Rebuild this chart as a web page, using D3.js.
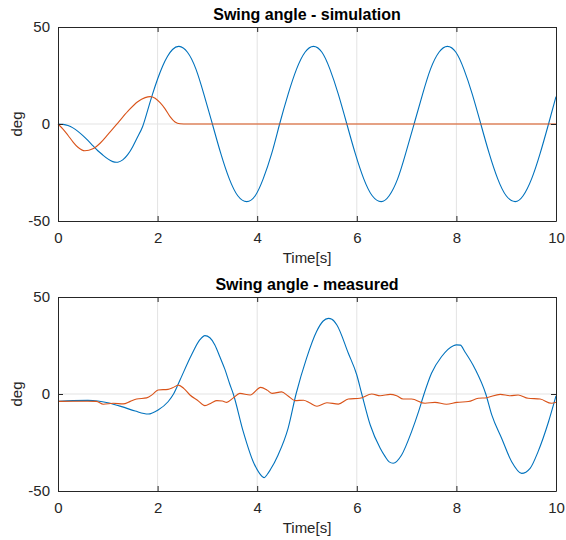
<!DOCTYPE html>
<html>
<head>
<meta charset="utf-8">
<script src="https://cdn.jsdelivr.net/npm/d3@7"></script>
<style>
  body { margin: 0; background: #fff; }
  svg { font-family: "Liberation Sans", Arial, sans-serif; }
</style>
</head>
<body>
<svg></svg>
<script>
const xTicks = [0, 2, 4, 6, 8, 10]
const yTicks = [-50, 0, 50]
const yTickLabels = ["-50", "0", "50"]
const titles = ["Swing angle - simulation", "Swing angle - measured"]

// simulation, blue
const simFreeT = [0, 0.1, 0.2, 0.3, 0.4, 0.5, 0.6, 0.7, 0.8, 0.9, 1, 1.1, 1.2, 1.3, 1.4, 1.5, 1.6, 1.7,
  1.8, 1.9, 2, 2.1, 2.2, 2.3, 2.43,
  2.6, 2.77, 2.93, 3.1, 3.27, 3.44, 3.61, 3.79, 3.96, 4.12, 4.29, 4.45, 4.62, 4.79, 4.96, 5.13,
  5.3, 5.46, 5.63, 5.8, 5.97, 6.14, 6.31, 6.49, 6.65, 6.82, 6.98, 7.15, 7.32, 7.48, 7.65, 7.82,
  7.99, 8.15, 8.32, 8.49, 8.66, 8.83, 9, 9.18, 9.34, 9.51, 9.68, 9.85, 10]
const simFree = [0, -0.2, -0.8, -2, -3.8, -6, -8.5, -11.2, -13.8, -16, -18, -19.4, -19.7, -18.5, -15.8, -11.7, -6.6, -1.3,
  7, 15.5, 23.2, 29.8, 34.9, 38.4, 40,
  37, 28.3, 15.3, 0, -15.3, -28.3, -37, -40, -37, -28.3, -15.3, 0, 15.3, 28.3, 37, 40,
  37, 28.3, 15.3, 0, -15.3, -28.3, -37, -40, -37, -28.3, -15.3, 0, 15.3, 28.3, 37, 40,
  37, 28.3, 15.3, 0, -15.3, -28.3, -37, -40, -37, -28.3, -15.3, 0, 14.1]

// simulation, orange
const simCtrlT = [0, 0.1, 0.2, 0.3, 0.4, 0.54, 0.7, 0.85, 1, 1.2, 1.4, 1.6, 1.75, 1.85, 1.95, 2.05, 2.15,
  2.25, 2.35, 2.45, 2.6, 3, 4, 5, 6, 7, 8, 9, 10]
const simCtrl = [0, -2.6, -5.8, -9.2, -12, -13.8, -12.8, -9.8, -5.5, 0.5, 6.5, 11.5, 13.6, 14.1, 13.3, 11, 7.8,
  3.8, 1, 0.1, 0, 0, 0, 0, 0, 0, 0, 0, 0]

// measured, blue
const measFreeT = [0, 0.3, 0.6, 0.8, 1, 1.28, 1.55, 1.81, 2.01, 2.21, 2.32, 2.45, 2.68, 2.85, 2.95, 3.05,
  3.15, 3.25, 3.35, 3.45, 3.52, 3.72, 3.92, 4.05, 4.14, 4.2, 4.26, 4.42, 4.62, 4.78, 4.99, 5.19,
  5.32, 5.43, 5.5, 5.6, 5.83, 6, 6.1, 6.27, 6.47, 6.57, 6.65, 6.73, 6.9, 7.1, 7.24, 7.35, 7.5,
  7.7, 7.94, 8, 8.08, 8.17, 8.37, 8.59, 8.71, 8.91, 9.11, 9.31, 9.48, 9.64, 9.85, 10]
const measFree = [-3.8, -3.4, -3.3, -3.6, -4.5, -6.5, -8.8, -10.3, -8.2, -4, 0, 7.2, 20.1, 28, 30.1, 29,
  25.3, 19.2, 12.8, 5, 0, -19.4, -34.9, -41, -43.1, -41.5, -39.2, -31.4, -17.7, 0, 18.4, 32.1,
  37.5, 39, 38.5, 35.6, 21, 9.8, 0, -16, -28, -32.3, -35, -35.7, -31.4, -19.4, -9.1, 0, 10.7,
  19.2, 24.9, 25.3, 25.2, 21.8, 13.2, 0, -10.8, -22.9, -34.9, -40.9, -38.3, -29.7, -14.3, -1]

// measured, orange
const measCtrlT = [0, 0.3, 0.6, 0.77, 0.91, 1.11, 1.31, 1.45, 1.58, 1.78, 1.9, 2.01, 2.21, 2.3, 2.42, 2.53,
  2.65, 2.8, 2.95, 3.08, 3.19, 3.3, 3.39, 3.52, 3.65, 3.86, 4.07, 4.2, 4.3, 4.49, 4.62, 4.76,
  4.93, 5.05, 5.2, 5.4, 5.63, 5.83, 6.06, 6.3, 6.47, 6.67, 6.8, 6.93, 7.1, 7.37, 7.57, 7.8,
  8.01, 8.24, 8.44, 8.61, 8.88, 9.08, 9.24, 9.44, 9.68, 9.91, 10]
const measCtrl = [-3.8, -3.7, -3.7, -3.8, -5.3, -4.8, -5.1, -3.8, -2.6, -2, -0.2, 2.1, 2.4, 3.2, 4.6, 2.8,
  -0.5, -3.2, -6, -4.6, -3.4, -3.6, -4.3, -2, 0.3, -0.5, 3.4, 2, 0.3, 1.1, -1, -3.4,
  -3.2, -4.5, -6.3, -4.5, -5.2, -2.6, -2.2, 0, -0.9, -0.2, -0.9, -2.6, -2.6, -4.8, -4.3, -5.3,
  -4.3, -3.9, -2.2, -1.9, -0.2, -0.9, -0.5, -2.2, -2.6, -4.8, -4.3]

const blue = "#0072BD"
const orange = "#D95319"
const axisColor = "#262626"

const svg = d3.select("svg")

svg
  .attr("width", 566)
  .attr("height", 540)

const timeScale = d3.scaleLinear()
  .domain([0, 10])
  .range([58, 556])

const drawPanel = (top, title, series) => {
  const angleScale = d3.scaleLinear()
    .domain([-50, 50])
    .range([top + 194, top])

  const g = svg.append("g")

  // grid
  g.selectAll("line.gx")
    .data(xTicks.slice(1, -1))
    .enter()
    .append("line")
    .attr("x1", d => timeScale(d))
    .attr("x2", d => timeScale(d))
    .attr("y1", angleScale(-50))
    .attr("y2", angleScale(50))
    .attr("stroke", "#e3e3e3")
  g.selectAll("line.gy")
    .data(yTicks.slice(1, -1))
    .enter()
    .append("line")
    .attr("x1", timeScale(0))
    .attr("x2", timeScale(10))
    .attr("y1", d => angleScale(d))
    .attr("y2", d => angleScale(d))
    .attr("stroke", "#e3e3e3")

  series.forEach(s => {
    const line = d3.line()
      .x(d => timeScale(d[0]))
      .y(d => angleScale(d[1]))
      .curve(s.curve)
    g.append("path")
      .attr("d", line(d3.zip(s.t, s.v)))
      .attr("fill", "none")
      .attr("stroke", s.color)
      .attr("stroke-width", 1.1)
  })

  const bottomAxis = d3.axisBottom(timeScale)
    .tickValues(xTicks)
    .tickFormat(d => d)
    .tickSizeInner(-5)
    .tickSizeOuter(0)
    .tickPadding(11)
  const topAxis = d3.axisTop(timeScale)
    .tickValues(xTicks)
    .tickFormat("")
    .tickSizeInner(-5)
    .tickSizeOuter(0)
  const leftAxis = d3.axisLeft(angleScale)
    .tickValues(yTicks)
    .tickFormat((d, i) => yTickLabels[i])
    .tickSizeInner(-5)
    .tickSizeOuter(0)
    .tickPadding(8)
  const rightAxis = d3.axisRight(angleScale)
    .tickValues(yTicks)
    .tickFormat("")
    .tickSizeInner(-5)
    .tickSizeOuter(0)

  const axes = [
    [bottomAxis, `translate(0, ${top + 194})`],
    [topAxis, `translate(0, ${top})`],
    [leftAxis, "translate(58, 0)"],
    [rightAxis, "translate(556, 0)"]
  ]
  axes.forEach(([ax, tr]) => {
    const a = g.append("g")
      .attr("transform", tr)
      .call(ax)
    a.selectAll("path, line").attr("stroke", axisColor)
    a.selectAll("text")
      .attr("fill", axisColor)
      .style("font-size", "15px")
      .style("font-family", "'Liberation Sans', Arial, sans-serif")
  })

  g.append("text")
    .attr("x", 307)
    .attr("y", top - 7)
    .attr("text-anchor", "middle")
    .style("font-size", "16px")
    .style("font-weight", "bold")
    .attr("fill", "#000")
    .text(title)

  g.append("text")
    .attr("x", 307)
    .attr("y", top + 236)
    .attr("text-anchor", "middle")
    .style("font-size", "15px")
    .attr("fill", axisColor)
    .text("Time[s]")

  g.append("text")
    .attr("transform", `translate(22, ${top + 97}) rotate(-90)`)
    .attr("text-anchor", "middle")
    .style("font-size", "15px")
    .attr("fill", axisColor)
    .text("deg")
}

drawPanel(27, titles[0], [
  { t: simFreeT, v: simFree, color: blue, curve: d3.curveNatural },
  { t: simCtrlT, v: simCtrl, color: orange, curve: d3.curveMonotoneX }
])

drawPanel(297, titles[1], [
  { t: measFreeT, v: measFree, color: blue, curve: d3.curveMonotoneX },
  { t: measCtrlT, v: measCtrl, color: orange, curve: d3.curveMonotoneX }
])
</script>
</body>
</html>
